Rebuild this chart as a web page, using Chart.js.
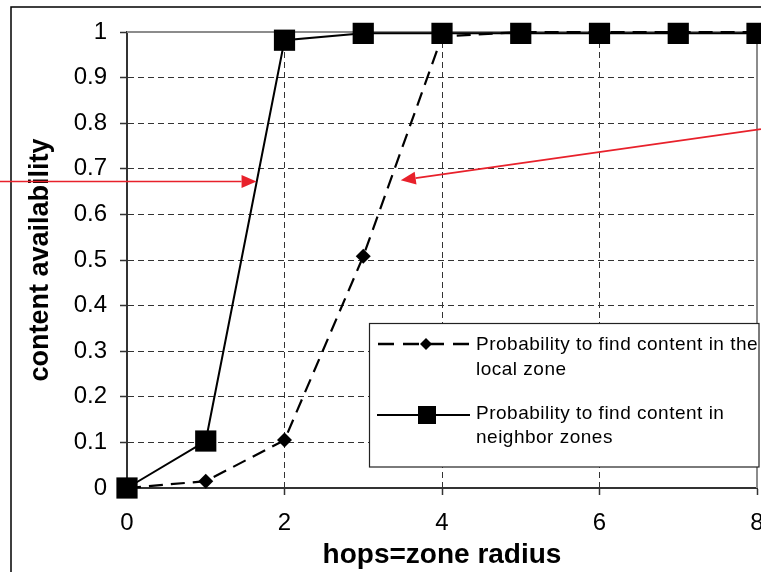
<!DOCTYPE html>
<html>
<head>
<meta charset="utf-8">
<script src="https://cdn.jsdelivr.net/npm/chart.js@4/dist/chart.umd.min.js"></script>
<style>
  html, body { margin: 0; padding: 0; background: #fff; }
  #wrap { width: 761px; height: 572px; position: relative; }
</style>
</head>
<body>
<div id="wrap"><canvas id="c" width="761" height="572"></canvas></div>
<script>
// hops = zone radius
const hops = [0, 1, 2, 3, 4, 5, 6, 7, 8];
// probability to find content in the local zone (dashed, diamonds)
const localZone = [0, 0.015, 0.105, 0.508, 0.99, 1, 1, 1, 1];
// probability to find content in neighbor zones (solid, squares)
const neighborZones = [0, 0.103, 0.982, 0.997, 0.997, 0.997, 0.997, 0.997, 0.997];

const localLabel = ['Probability to find content in the', 'local zone'];
const neighborLabel = ['Probability to find content in', 'neighbor zones'];

// red annotation arrows, [fromX, fromY, toX, toY] in data units
const arrows = [
  [-1.62, 0.672, 1.645, 0.672],
  [8.05, 0.787, 3.476, 0.675]
];

const FONT = "'Liberation Sans', Arial, sans-serif";

// frame, plot borders, arrows, legend
const decor = {
  id: 'decor',
  beforeDatasetsDraw(chart) {
    const {ctx, chartArea: a} = chart;
    ctx.save();
    ctx.strokeStyle = '#8c8c8c';
    ctx.lineWidth = 2;
    ctx.beginPath();
    ctx.moveTo(a.left, a.top); ctx.lineTo(a.right, a.top); ctx.lineTo(a.right, a.bottom);
    ctx.stroke();
    // outer frame (only top and left visible)
    ctx.strokeStyle = '#000';
    ctx.lineWidth = 1.5;
    ctx.beginPath();
    ctx.moveTo(761, 7); ctx.lineTo(11, 7); ctx.lineTo(11, 572);
    ctx.stroke();
    ctx.restore();
  },
  afterDatasetsDraw(chart) {
    const {ctx, scales: {x, y}} = chart;
    ctx.save();
    ctx.strokeStyle = '#e8212b';
    ctx.fillStyle = '#e8212b';
    ctx.lineWidth = 1.6;
    arrows.forEach(([fx, fy, tx, ty]) => {
      const x1 = x.getPixelForValue(fx), y1 = y.getPixelForValue(fy);
      const x2 = x.getPixelForValue(tx), y2 = y.getPixelForValue(ty);
      const ang = Math.atan2(y2 - y1, x2 - x1);
      const len = 15, hw = 6.5;
      const bx = x2 - len * Math.cos(ang), by = y2 - len * Math.sin(ang);
      ctx.beginPath(); ctx.moveTo(x1, y1); ctx.lineTo(bx, by); ctx.stroke();
      ctx.beginPath();
      ctx.moveTo(x2, y2);
      ctx.lineTo(bx + hw * Math.sin(ang), by - hw * Math.cos(ang));
      ctx.lineTo(bx - hw * Math.sin(ang), by + hw * Math.cos(ang));
      ctx.closePath(); ctx.fill();
    });
    ctx.restore();
  },
  afterDraw(chart) {
    const ctx = chart.ctx;
    ctx.save();
    ctx.fillStyle = '#fff';
    ctx.fillRect(369, 323, 390, 144);
    ctx.strokeStyle = '#222';
    ctx.lineWidth = 1.2;
    ctx.strokeRect(369.5, 323.5, 389.5, 143.5);
    // local sample
    ctx.strokeStyle = '#000';
    ctx.lineWidth = 2.5;
    ctx.setLineDash([16, 9]);
    ctx.beginPath(); ctx.moveTo(378, 344); ctx.lineTo(471, 344); ctx.stroke();
    ctx.setLineDash([]);
    ctx.fillStyle = '#000';
    ctx.beginPath();
    ctx.moveTo(426, 338); ctx.lineTo(432, 344); ctx.lineTo(426, 350); ctx.lineTo(420, 344);
    ctx.closePath(); ctx.fill();
    // neighbor sample
    ctx.lineWidth = 2;
    ctx.beginPath(); ctx.moveTo(377, 415); ctx.lineTo(470, 415); ctx.stroke();
    ctx.fillRect(418, 406, 18, 18);
    // text
    ctx.font = '19px ' + FONT;
    ctx.letterSpacing = '0.5px';
    ctx.textBaseline = 'middle';
    ctx.textAlign = 'left';
    ctx.save();
    ctx.beginPath(); ctx.rect(369, 323, 389, 144); ctx.clip();
    ctx.fillText(localLabel[0], 476, 345);
    ctx.fillText(localLabel[1], 476, 370);
    ctx.fillText(neighborLabel[0], 476, 414);
    ctx.fillText(neighborLabel[1], 476, 438);
    ctx.restore();
    ctx.restore();
  }
};

new Chart(document.getElementById('c'), {
  type: 'line',
  data: {
    labels: hops,
    datasets: [
      {
        label: neighborLabel.join(' '),
        data: hops.map((h, i) => ({x: h, y: neighborZones[i]})),
        borderColor: '#000',
        backgroundColor: '#000',
        borderWidth: 2,
        pointStyle: 'rect',
        pointRadius: 15,
        pointBorderWidth: 0,
        tension: 0,
        clip: false
      },
      {
        label: localLabel.join(' '),
        data: hops.map((h, i) => ({x: h, y: localZone[i]})),
        borderColor: '#000',
        backgroundColor: '#000',
        borderWidth: 2.2,
        borderDash: [14, 8],
        pointStyle: 'rectRot',
        pointRadius: 7.5,
        pointBorderWidth: 0,
        tension: 0,
        clip: false
      }
    ]
  },
  options: {
    responsive: false,
    animation: false,
    events: [],
    layout: { autoPadding: false, padding: { left: 20, right: 4, top: 32, bottom: 0 } },
    plugins: { legend: { display: false }, tooltip: { enabled: false } },
    scales: {
      x: {
        type: 'linear',
        min: 0, max: 8,
        ticks: { stepSize: 2, color: '#000', padding: 14, font: { family: FONT, size: 24 } },
        grid: {
          color: c => (c.tick && (c.tick.value === 0 || c.tick.value === 8)) ? 'rgba(0,0,0,0)' : '#333',
          lineWidth: 1,
          tickLength: 7,
          tickColor: '#333',
          tickWidth: 1.5
        },
        border: { color: '#333', width: 2, dash: [6, 4] },
        title: {
          display: true, text: 'hops=zone radius', color: '#000',
          padding: { top: 7, bottom: 0 },
          font: { family: FONT, size: 28, weight: 'bold' }
        },
        afterFit: s => { s.height = 84; s.paddingLeft = 0; s.paddingRight = 0; }
      },
      y: {
        min: 0, max: 1,
        ticks: {
          stepSize: 0.1, color: '#000', padding: 13,
          font: { family: FONT, size: 24 },
          callback: v => String(+v.toFixed(1))
        },
        grid: {
          color: c => (c.tick && (c.tick.value === 0 || c.tick.value === 1)) ? 'rgba(0,0,0,0)' : '#333',
          lineWidth: 1,
          tickLength: 7,
          tickColor: '#333',
          tickWidth: 1.5
        },
        border: { color: '#333', width: 2, dash: [6, 4] },
        title: {
          display: true, text: 'content availability', color: '#000',
          padding: { top: 4, bottom: 0 },
          font: { family: FONT, size: 27, weight: 'bold' }
        },
        afterFit: s => { s.width = 107; s.paddingTop = 0; s.paddingBottom = 0; }
      }
    }
  },
  plugins: [decor]
});
</script>
</body>
</html>
